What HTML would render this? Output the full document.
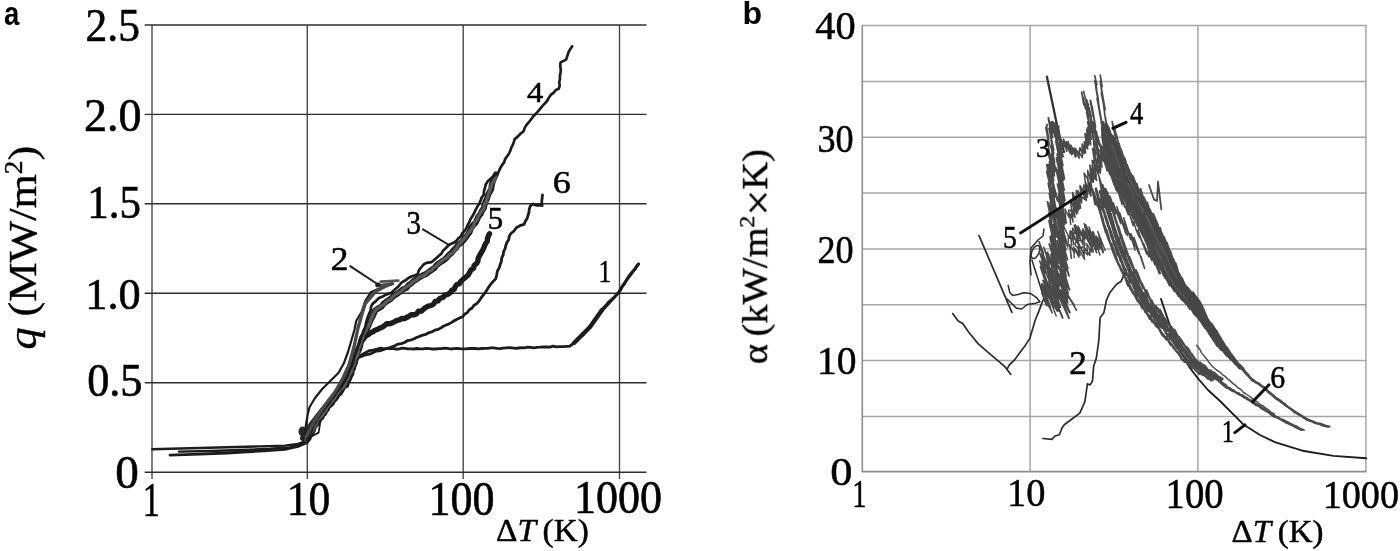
<!DOCTYPE html>
<html><head><meta charset="utf-8"><style>
html,body{margin:0;padding:0;background:#fff;width:1400px;height:551px;overflow:hidden}
svg{display:block}
</style></head><body>
<svg width="1400" height="551" viewBox="0 0 1400 551">
<rect width="1400" height="551" fill="#fff"/>
<line x1="152" y1="25" x2="152" y2="479" stroke="#4a4a4a" stroke-width="1.4"/>
<line x1="307.3" y1="25" x2="307.3" y2="479" stroke="#4a4a4a" stroke-width="1.4"/>
<line x1="463.2" y1="25" x2="463.2" y2="479" stroke="#4a4a4a" stroke-width="1.4"/>
<line x1="619.5" y1="25" x2="619.5" y2="479" stroke="#4a4a4a" stroke-width="1.4"/>
<line x1="144.7" y1="25" x2="646.5" y2="25" stroke="#2e2e2e" stroke-width="1.35"/>
<line x1="144.7" y1="114.3" x2="646.5" y2="114.3" stroke="#2e2e2e" stroke-width="1.35"/>
<line x1="144.7" y1="203.7" x2="646.5" y2="203.7" stroke="#2e2e2e" stroke-width="1.35"/>
<line x1="144.7" y1="293.2" x2="646.5" y2="293.2" stroke="#2e2e2e" stroke-width="1.35"/>
<line x1="144.7" y1="382.7" x2="646.5" y2="382.7" stroke="#2e2e2e" stroke-width="1.35"/>
<line x1="144.7" y1="472.2" x2="646.5" y2="472.2" stroke="#2e2e2e" stroke-width="1.35"/>
<line x1="862.3" y1="25.6" x2="1366.6" y2="25.6" stroke="#a6a6a6" stroke-width="1.5"/>
<line x1="862.3" y1="81.4" x2="1366.6" y2="81.4" stroke="#a6a6a6" stroke-width="1.5"/>
<line x1="862.3" y1="137.3" x2="1366.6" y2="137.3" stroke="#a6a6a6" stroke-width="1.5"/>
<line x1="862.3" y1="193.1" x2="1366.6" y2="193.1" stroke="#a6a6a6" stroke-width="1.5"/>
<line x1="862.3" y1="248.9" x2="1366.6" y2="248.9" stroke="#a6a6a6" stroke-width="1.5"/>
<line x1="862.3" y1="304.8" x2="1366.6" y2="304.8" stroke="#a6a6a6" stroke-width="1.5"/>
<line x1="862.3" y1="360.6" x2="1366.6" y2="360.6" stroke="#a6a6a6" stroke-width="1.5"/>
<line x1="862.3" y1="416.4" x2="1366.6" y2="416.4" stroke="#a6a6a6" stroke-width="1.5"/>
<line x1="1030.1" y1="25.6" x2="1030.1" y2="471.4" stroke="#a6a6a6" stroke-width="1.5"/>
<line x1="1197.9" y1="25.6" x2="1197.9" y2="471.4" stroke="#a6a6a6" stroke-width="1.5"/>
<line x1="1365.9" y1="25.6" x2="1365.9" y2="471.4" stroke="#a6a6a6" stroke-width="1.5"/>
<line x1="862.3" y1="25" x2="862.3" y2="472.2" stroke="#8c8c8c" stroke-width="1.6"/>
<line x1="862.3" y1="471.6" x2="1366.6" y2="471.6" stroke="#8c8c8c" stroke-width="1.6"/>
<path d="M152.3,449.3 L190.0,448.3 L227.0,447.2 L260.0,446.4 L285.0,445.6 L298.0,444.0 L305.0,441.5 L310.0,438.0" fill="none" stroke="#1c1c1c" stroke-width="2.4" stroke-linejoin="round" stroke-linecap="round"/>
<path d="M170.0,455.2 L200.0,454.2 L227.0,453.0 L260.0,451.0 L285.0,449.3 L298.0,446.5 L306.0,443.0 L310.0,439.0" fill="none" stroke="#1c1c1c" stroke-width="2.8" stroke-linejoin="round" stroke-linecap="round"/>
<path d="M179.0,451.6 L210.0,451.0 L240.0,450.0 L270.0,448.8 L290.0,447.5 L300.0,445.0 L307.0,441.0" fill="none" stroke="#1c1c1c" stroke-width="2.4" stroke-linejoin="round" stroke-linecap="round"/>
<ellipse cx="302.5" cy="431.5" rx="4" ry="5" fill="#2a2a2a"/>
<path d="M303.0,441.0 L318.6,432.6 L320.4,421.7 L322.0,416.0" fill="none" stroke="#1c1c1c" stroke-width="1.8" stroke-linejoin="round" stroke-linecap="round"/>
<path d="M303.0,438.0 L312.0,424.0 L322.0,411.0 L333.0,399.0 L343.0,386.0 L350.0,373.0 L355.0,360.0 L358.0,350.0" fill="none" stroke="#262626" stroke-width="6.0" stroke-linejoin="round" stroke-linecap="round"/>
<path d="M307.0,441.0 L308.3,437.9 L310.6,435.4 L312.1,432.5 L313.3,429.4 L315.1,426.6 L316.7,423.7 L318.5,420.9 L320.2,418.2 L321.6,415.3 L323.4,412.7 L325.9,410.7 L327.4,408.0 L329.6,405.7 L330.9,402.7 L333.1,400.5 L335.2,398.1 L336.8,395.2 L339.4,392.9 L341.3,390.2 L342.6,387.1 L344.6,384.4 L347.0,382.0 L348.9,378.9 L349.9,375.5 L351.2,372.1 L352.9,369.0 L354.1,365.3 L355.8,361.9 L357.4,359.2 L359.0,356.5 L362.3,354.4 L365.8,352.6 L369.3,350.7 L373.2,350.2 L377.0,349.2 L380.8,348.1 L383.8,348.9 L386.8,348.7 L389.8,348.7 L392.9,348.3 L395.9,349.1 L398.9,349.0 L401.9,348.2 L404.9,348.4 L407.9,348.8 L411.0,348.8 L414.0,349.0 L417.0,348.5 L420.0,348.9 L423.1,348.8 L426.1,348.4 L429.2,348.7 L432.3,349.0 L435.4,349.0 L438.4,348.6 L441.5,348.7 L444.6,348.2 L447.6,348.4 L450.7,349.0 L453.8,348.6 L456.9,348.4 L459.9,348.7 L463.0,348.9 L466.1,348.8 L469.2,348.5 L472.2,348.5 L475.3,348.5 L478.4,348.8 L481.5,348.5 L484.6,348.3 L487.7,348.4 L490.7,347.9 L493.8,347.8 L496.9,348.4 L500.0,348.7 L503.1,348.2 L506.2,347.9 L509.2,347.6 L512.3,347.9 L515.4,348.3 L518.5,348.0 L521.5,347.7 L524.6,347.9 L527.7,347.2 L530.8,347.4 L533.9,347.8 L536.9,347.4 L540.0,347.2 L543.3,346.8 L546.6,347.0 L549.9,347.2 L553.2,346.1 L556.5,346.8 L559.8,346.7 L563.1,346.6 L566.4,346.3 L569.9,346.2 L573.0,343.7 L576.2,341.4 L578.3,339.2 L580.2,336.7 L582.9,335.1 L584.9,332.7 L586.8,330.3 L588.8,328.0 L590.7,325.4 L592.4,322.8 L594.2,320.3 L596.2,317.9 L598.1,315.4 L600.2,312.8 L602.3,310.0 L604.1,307.1 L606.4,304.6 L608.6,302.0 L611.3,299.8 L614.0,297.6 L616.4,295.1 L618.9,292.6 L620.8,289.6 L622.2,286.3 L624.6,283.7 L626.3,280.6 L628.1,277.3 L630.2,274.4 L632.4,271.5 L634.9,269.4 L636.4,266.5 L638.5,264.0" fill="none" stroke="#1c1c1c" stroke-width="2.8" stroke-linejoin="round" stroke-linecap="round"/>
<path d="M574.0,343.0 L590.0,327.0 L602.0,310.0" fill="none" stroke="#1c1c1c" stroke-width="4.4" stroke-linejoin="round" stroke-linecap="round"/>
<path d="M600.0,313.0 L618.6,292.4 L626.2,280.5 L632.8,271.8 L638.5,264.0" fill="none" stroke="#1c1c1c" stroke-width="3.0" stroke-linejoin="round" stroke-linecap="round"/>
<path d="M308.0,440.0 L309.9,437.6 L311.4,435.0 L312.1,431.9 L313.6,429.3 L315.8,427.0 L317.2,424.4 L318.6,421.7 L319.8,418.9 L322.0,416.4 L323.8,413.8 L325.7,411.2 L327.2,408.3 L329.3,405.8 L331.2,403.2 L333.3,400.8 L335.4,398.3 L337.4,395.6 L339.0,392.7 L341.0,390.0 L342.8,387.2 L344.6,384.4 L346.6,381.8 L348.4,379.0 L349.6,375.9 L351.1,372.9 L353.0,370.2 L354.0,367.0 L355.4,364.0 L356.4,360.9 L357.8,357.6 L360.9,356.7 L363.8,355.5 L366.8,354.7 L369.9,354.1 L372.8,352.7 L375.9,351.2 L379.3,350.9 L382.6,349.8 L385.8,348.7 L389.1,347.9 L392.2,346.7 L395.2,345.6 L398.1,344.1 L401.4,343.6 L404.5,342.5 L407.3,340.7 L410.5,340.1 L413.6,339.0 L416.5,337.5 L419.6,336.4 L422.7,335.1 L425.9,334.3 L428.8,332.7 L432.0,331.8 L434.9,330.1 L438.2,329.3 L440.9,328.0 L443.4,326.2 L446.2,325.0 L449.1,323.9 L451.7,322.4 L454.3,320.8 L456.9,319.2 L459.7,317.9 L462.6,316.8 L464.6,314.2 L467.4,312.5 L469.3,309.8 L472.1,308.0 L474.0,305.3 L476.8,303.6 L479.0,301.1 L480.7,298.4 L482.6,295.8 L484.6,293.3 L486.5,290.7 L488.1,287.9 L490.4,284.7 L493.0,281.7 L495.8,278.6 L496.7,275.0 L497.3,271.3 L499.2,267.9 L500.2,264.4 L501.4,261.3 L501.7,257.9 L503.2,255.0 L503.6,251.6 L505.1,248.7 L505.8,245.4 L506.9,242.4 L508.7,239.7 L509.2,236.5 L510.7,233.7 L513.9,231.0 L516.5,227.6 L520.0,225.7 L524.0,224.4 L525.2,221.4 L527.0,218.8 L527.9,215.9 L528.9,212.5 L529.3,209.0 L530.4,205.8 L533.1,203.9 L535.9,205.3 L539.0,205.0 L542.2,205.5 L541.7,201.9 L542.1,198.4 L542.5,194.8" fill="none" stroke="#1c1c1c" stroke-width="2.8" stroke-linejoin="round" stroke-linecap="round"/>
<path d="M307.0,441.0 L307.8,438.6 L309.5,436.6 L310.5,434.2 L312.1,432.2 L313.3,430.0 L313.6,427.3 L314.8,425.0 L317.3,423.5 L317.7,420.7 L319.1,418.7 L321.7,417.5 L322.5,415.0 L324.5,413.4 L325.5,411.0 L327.2,409.2 L328.0,406.6 L330.2,405.1 L332.0,403.4 L333.0,401.0 L335.0,399.3 L336.5,397.2 L337.3,394.5 L339.9,393.3 L341.3,391.1 L342.5,388.8 L343.7,386.5 L346.6,385.3 L347.0,382.6 L348.4,380.5 L349.6,378.3 L350.4,375.8 L351.7,373.6 L351.8,371.0 L353.2,368.6 L353.2,366.0 L354.8,363.7 L355.3,361.2 L354.6,358.3 L355.4,355.8 L356.5,353.0 L358.8,350.7 L358.9,347.6 L360.2,344.9 L360.7,341.8 L362.7,340.0 L364.2,337.9 L365.8,335.8 L368.3,334.5 L370.5,332.8 L372.9,331.7 L375.0,330.2 L377.5,329.4 L379.7,328.2 L382.0,327.3 L384.4,325.7 L386.6,323.7 L389.6,323.8 L392.3,322.9 L394.7,321.7 L397.0,320.4 L399.4,319.9 L401.6,318.4 L404.3,318.7 L406.6,317.5 L408.8,316.4 L411.1,314.8 L414.2,314.8 L416.7,313.8 L418.4,311.2 L421.4,311.1 L423.5,309.3 L425.7,307.4 L428.2,306.2 L431.1,305.5 L433.5,304.2 L435.2,301.4 L438.1,300.9 L439.9,298.3 L442.9,297.5 L444.8,295.2 L447.8,294.3 L450.3,292.7 L451.7,290.3 L454.2,289.3 L455.3,286.6 L457.0,284.6 L459.6,283.6 L460.8,281.2 L463.2,279.2 L465.6,277.3 L468.0,275.3 L469.5,272.7 L470.8,270.1 L473.6,268.3 L474.2,265.3 L476.7,263.4 L477.9,260.8 L478.3,257.8 L479.7,255.4 L481.1,252.9 L482.6,250.4 L483.8,247.9 L484.7,245.5 L485.8,243.2 L487.3,241.1 L487.5,238.4 L488.4,236.0 L489.5,233.7" fill="none" stroke="#1c1c1c" stroke-width="5.4" stroke-linejoin="round" stroke-linecap="round"/>
<path d="M306.0,440.0 L307.4,437.0 L309.0,434.0 L311.0,431.4 L312.5,428.4 L314.1,425.4 L316.2,422.8 L318.4,420.3 L320.2,417.7 L322.0,415.2 L323.4,412.3 L325.5,410.0 L327.2,407.3 L328.9,404.8 L330.7,402.2 L332.7,399.8 L335.4,397.6 L337.3,394.9 L339.3,392.2 L341.3,389.5 L342.7,386.4 L344.8,383.9 L346.5,381.3 L348.0,378.5 L349.6,375.8 L351.0,373.0 L351.5,369.8 L353.1,367.0 L354.2,364.1 L355.0,361.0 L355.6,357.9 L357.0,355.0 L357.5,351.4 L359.5,348.1 L360.4,344.6 L361.1,341.0 L362.2,337.6 L364.3,334.5 L365.4,331.0 L367.1,328.3 L368.5,325.5 L369.6,322.4 L370.9,319.5 L372.5,316.8 L373.8,313.8 L375.1,310.7 L378.1,308.5 L381.4,306.7 L383.8,303.7 L386.7,301.4 L390.4,299.2 L393.3,296.1 L396.7,294.1 L399.8,291.8 L402.7,289.5 L406.2,288.0 L408.7,285.1 L411.3,283.4 L413.5,281.2 L416.3,279.6 L419.3,277.4 L422.5,275.6 L426.0,274.1 L428.9,271.7 L431.6,269.9 L434.3,268.2 L436.3,265.5 L438.8,263.4 L441.4,261.6 L444.4,259.8 L446.8,257.5 L449.0,254.9 L451.6,252.8 L453.7,250.1 L456.2,247.8 L458.1,244.9 L460.9,242.9 L463.2,240.5 L465.3,238.0 L467.2,235.3 L469.6,232.1 L470.8,228.3 L473.2,225.2 L475.6,222.7 L477.1,219.7 L478.4,216.5 L480.6,214.0 L481.9,210.9 L483.9,208.0 L484.5,204.7 L485.6,201.5 L487.1,198.4 L488.0,195.1 L489.5,192.1 L491.3,189.2 L491.6,186.0 L492.3,183.0 L493.3,180.1 L494.5,177.3 L495.9,174.5" fill="none" stroke="#1c1c1c" stroke-width="6.0" stroke-linejoin="round" stroke-linecap="round"/>
<path d="M306.0,440.0 L307.8,437.2 L309.7,434.4 L311.4,431.6 L313.3,428.8 L314.8,425.9 L316.7,423.1 L317.5,419.7 L319.8,417.5 L322.2,415.3 L323.8,412.6 L325.9,410.3 L327.0,407.2 L329.2,405.0 L330.9,402.3 L333.0,400.0 L335.1,397.4 L336.5,394.3 L338.7,391.8 L340.8,389.2 L343.4,387.0 L345.3,384.1 L346.0,381.0 L348.1,378.6 L348.8,375.4 L350.7,372.9 L351.6,369.9 L352.4,366.8 L354.4,364.1 L354.7,360.9 L355.7,357.9 L357.6,355.2 L358.4,351.6 L358.8,347.9 L360.5,344.7 L361.0,341.0 L362.6,337.8 L363.5,334.2 L365.8,331.2 L366.9,328.2 L368.7,325.5 L370.0,322.6 L370.8,319.5 L372.3,316.6 L373.5,313.7 L375.0,310.7 L377.9,308.3 L381.1,306.2 L384.2,304.2 L386.7,301.3 L390.4,299.2 L393.4,296.1 L396.5,293.9 L400.0,292.1 L402.8,289.6 L405.7,287.4 L408.9,285.4 L411.5,283.6 L413.4,281.1 L416.5,280.0 L419.1,277.1 L422.8,276.0 L426.0,274.2 L428.6,271.4 L431.7,270.1 L433.9,267.7 L436.6,265.9 L438.7,263.4 L441.2,261.4 L443.9,259.3 L447.1,257.8 L449.0,254.9 L452.0,253.1 L454.4,250.7 L456.6,248.1 L458.3,245.1 L460.6,242.6 L462.8,240.2 L465.2,237.8 L466.6,234.8 L469.4,232.0 L471.6,228.8 L473.8,225.5 L474.6,222.1 L477.2,219.8 L478.0,216.4 L480.0,213.6 L481.9,210.9 L484.0,208.1 L484.5,204.7 L486.4,201.8 L487.2,198.5 L488.2,195.2 L489.4,192.1 L490.4,188.9 L491.3,185.9 L492.4,183.1 L494.1,180.4 L495.4,177.6 L495.9,174.5" fill="none" stroke="#5a5a5a" stroke-width="3.4" stroke-linejoin="round" stroke-linecap="round"/>
<path d="M307.0,440.0 L308.7,437.1 L310.1,434.1 L311.3,431.0 L312.5,427.9 L313.7,424.8 L315.7,422.1 L317.0,419.0 L319.2,416.4 L320.9,413.5 L323.2,411.0 L324.8,408.0 L327.2,405.6 L329.2,402.9 L330.9,399.9 L333.0,397.4 L335.1,394.8 L336.8,391.8 L339.0,389.4 L341.2,386.8 L342.8,383.9 L344.7,381.3 L346.0,378.5 L347.5,375.8 L348.5,372.7 L349.6,369.9 L351.5,366.6 L352.8,363.1 L353.7,359.5 L354.6,355.9 L355.7,352.7 L357.1,349.5 L357.8,346.2 L359.4,343.2 L360.2,340.0 L361.0,336.9 L362.5,334.1 L363.4,331.0 L364.8,328.1 L365.7,325.1 L366.2,322.0 L367.2,319.0 L368.2,316.1 L369.4,313.1 L370.7,310.2 L371.0,306.8 L372.5,303.9 L375.9,301.1 L378.9,297.9 L382.6,296.6 L386.0,294.6 L391.2,292.8 L393.5,290.8 L395.7,288.7 L398.6,286.3 L400.9,283.2 L403.4,281.4 L406.1,280.0 L408.4,278.0 L411.4,276.5 L414.7,275.6 L417.7,273.9 L419.0,270.1 L421.5,267.0 L423.6,264.5 L426.4,262.8 L431.7,262.1 L434.1,260.0 L436.5,257.9 L439.0,255.7 L441.5,253.4 L443.2,250.4 L445.7,248.2 L449.1,244.8 L454.2,242.6 L456.6,240.6 L458.5,238.2 L461.1,236.3 L462.3,233.2 L464.6,230.9 L466.4,228.2 L467.7,225.1 L469.3,222.2 L470.5,219.0 L472.5,216.1 L474.2,212.9 L475.7,209.7 L477.4,206.6 L479.4,203.6 L480.6,200.6 L481.7,197.5 L483.7,194.8 L484.0,191.2 L485.0,187.6 L485.9,184.2 L487.8,181.2 L491.9,177.6 L494.9,175.2 L498.1,173.0 L499.3,170.2 L500.6,167.5 L502.2,164.9 L504.1,162.4 L505.1,159.2 L506.9,156.5 L508.9,153.8 L510.3,150.8 L511.2,147.9 L512.6,145.1 L513.8,142.2 L514.7,139.1 L517.7,136.6 L520.4,133.8 L523.6,131.3 L524.7,127.9 L526.6,124.8 L529.3,121.7 L531.7,118.5 L533.5,115.9 L535.9,113.9 L537.9,111.5 L540.1,108.8 L542.3,106.2 L544.7,103.6 L547.0,101.0 L548.7,97.9 L550.7,94.9 L553.5,92.8 L555.8,90.0 L558.7,88.8 L559.7,85.6 L559.2,82.3 L560.0,79.0 L559.9,75.7 L560.6,72.5 L560.8,69.2 L560.2,65.9 L560.6,62.4 L566.1,59.6 L567.5,55.3 L568.9,51.2 L572.2,46.3" fill="none" stroke="#1c1c1c" stroke-width="2.7" stroke-linejoin="round" stroke-linecap="round"/>
<path d="M305.0,437.0 L305.5,428.0 L307.7,414.4 L309.5,407.2 L315.0,398.0 L322.2,389.0 L331.3,380.0 L338.6,372.7 L344.0,363.0 L348.0,352.0 L351.5,340.0 L354.4,330.0 L356.3,320.8 L361.7,311.8 L365.3,300.9 L370.8,292.3 L378.0,289.0 L387.0,285.9 L393.0,284.0" fill="none" stroke="#1c1c1c" stroke-width="2.2" stroke-linejoin="round" stroke-linecap="round"/>
<path d="M306.0,437.0 L315.0,420.0 L325.0,405.0 L335.0,392.0 L343.0,378.0 L349.0,365.0 L354.0,347.0 L358.0,328.0 L362.6,312.0 L365.3,303.6 L370.8,297.2 L375.3,291.8 L381.7,288.2 L387.1,285.4 L392.0,283.5" fill="none" stroke="#4a4a4a" stroke-width="3.4" stroke-linejoin="round" stroke-linecap="round"/>
<path d="M376.8,285.9 L390.8,284.0" fill="none" stroke="#4a4a4a" stroke-width="3.2" stroke-linejoin="round" stroke-linecap="round"/>
<path d="M380.7,281.6 L398.4,280.6" fill="none" stroke="#555" stroke-width="2.6" stroke-linejoin="round" stroke-linecap="round"/>
<path d="M350.2,266.2 L378.8,285.0" fill="none" stroke="#1c1c1c" stroke-width="2.0" stroke-linejoin="round" stroke-linecap="round"/>
<ellipse cx="378" cy="284.5" rx="2.6" ry="2" fill="#1c1c1c"/>
<path d="M423.0,229.4 L449.0,245.0" fill="none" stroke="#1c1c1c" stroke-width="2.0" stroke-linejoin="round" stroke-linecap="round"/>
<path d="M952.7,313.6 L958.2,320.9 L962.7,323.6 L969.1,332.7 L978.1,343.6 L987.2,351.7 L998.1,360.8 L1005.4,367.2 L1010.8,374.4" fill="none" stroke="#2b2b2b" stroke-width="1.7" stroke-linejoin="round" stroke-linecap="round"/>
<path d="M1007.2,369.0 L1009.0,365.3 L1014.5,359.9 L1019.9,352.6 L1025.3,345.4 L1029.9,338.1 L1032.6,329.0 L1035.3,320.0 L1039.0,310.9 L1041.7,303.6 L1044.0,298.0" fill="none" stroke="#2b2b2b" stroke-width="1.7" stroke-linejoin="round" stroke-linecap="round"/>
<path d="M979.0,235.6 L1011.9,312.3" fill="none" stroke="#2b2b2b" stroke-width="1.7" stroke-linejoin="round" stroke-linecap="round"/>
<path d="M1008.1,285.4 L1009.9,292.7 L1012.6,295.4 L1018.1,294.5 L1023.5,292.7 L1030.8,293.6 L1036.2,297.3 L1039.9,301.8 L1034.4,303.6 L1027.2,304.5 L1021.7,309.0 L1016.3,308.1 L1009.9,301.8 L1007.2,299.1" fill="none" stroke="#2b2b2b" stroke-width="1.5" stroke-linejoin="round" stroke-linecap="round"/>
<ellipse cx="1035.5" cy="252" rx="3.5" ry="7" transform="rotate(25 1035.5 252)" fill="none" stroke="#333" stroke-width="1.6"/>
<path d="M1031.0,275.0 L1030.0,262.0 L1031.0,248.0 L1038.0,240.0 L1043.0,236.0 L1044.0,229.0" fill="none" stroke="#2b2b2b" stroke-width="1.5" stroke-linejoin="round" stroke-linecap="round"/>
<path d="M1031.9,260.0 L1045.9,303.9" fill="none" stroke="#2b2b2b" stroke-width="1.5" stroke-linejoin="round" stroke-linecap="round"/>
<path d="M1043.0,438.5 L1051.8,439.3 L1055.0,436.0 L1059.4,434.7 L1062.0,428.0 L1064.5,424.5 L1072.0,419.0 L1079.8,413.1 L1084.9,401.7 L1087.4,383.9 L1090.0,385.0 L1092.5,381.0 L1093.7,366.0 L1096.3,358.4 L1098.8,340.7 L1100.1,317.8 L1103.9,312.7 L1106.5,300.0 L1109.8,292.7 L1116.3,284.5 L1121.2,281.2 L1126.0,270.0" fill="none" stroke="#2b2b2b" stroke-width="1.7" stroke-linejoin="round" stroke-linecap="round"/>
<path d="M1046.9,76.7 L1059.2,135.5 L1064.0,152.0" fill="none" stroke="#333" stroke-width="2.3" stroke-linejoin="round" stroke-linecap="round"/>
<path d="M1161.0,299.0 L1168.0,320.0 L1176.0,343.0 L1183.0,356.0 L1190.0,368.0 L1198.0,378.5 L1208.0,390.0 L1220.0,401.0 L1243.8,424.8 L1260.0,435.0 L1274.8,442.1 L1302.4,450.7 L1333.4,455.9 L1366.2,458.3" fill="none" stroke="#1e1e1e" stroke-width="1.9" stroke-linejoin="round" stroke-linecap="round"/>
<path d="M1047.1,124.7 L1046.5,126.8 L1048.6,139.2 L1046.0,127.7 L1049.3,144.9 L1047.7,138.1 L1048.6,147.7 L1048.4,148.6 L1051.2,159.9 L1047.4,149.7 L1051.4,164.9 L1049.5,162.0 L1051.7,174.0 L1048.7,164.8 L1052.3,182.9 L1046.9,164.8 L1050.5,184.9 L1046.8,171.5 L1051.9,193.0 L1048.3,183.4 L1053.8,209.5 L1049.4,193.6 L1051.9,206.6 L1050.5,205.0 L1054.5,221.8 L1047.5,201.9 L1051.8,222.1 L1048.7,213.2 L1052.3,227.2 L1049.1,220.7 L1052.5,237.0 L1051.3,235.9 L1053.1,245.0 L1050.1,237.1 L1055.7,260.3 L1049.3,244.1 L1056.0,264.8 L1051.1,254.2 L1053.5,267.2 L1048.1,254.0 L1053.6,272.5 L1050.8,268.4 L1055.2,283.7 L1048.9,270.8 L1053.3,285.6 L1052.3,284.7 L1056.3,296.7 L1050.6,286.0 L1059.1,311.1 L1053.5,300.5 L1057.3,310.9 L1049.7,297.2" fill="none" stroke="#4a4a4a" stroke-width="1.94" stroke-linejoin="round" stroke-linecap="round"/>
<path d="M1050.6,125.1 L1050.7,127.2 L1052.5,137.4 L1049.1,128.5 L1053.6,149.9 L1051.2,140.1 L1053.6,154.0 L1050.9,145.9 L1054.5,162.3 L1051.9,153.6 L1055.9,171.3 L1051.0,155.3 L1054.3,173.1 L1052.2,166.0 L1054.2,175.8 L1050.8,165.6 L1053.5,180.7 L1051.2,175.9 L1057.6,200.8 L1051.8,181.6 L1054.5,197.3 L1051.9,188.0 L1056.1,210.2 L1051.9,193.5 L1057.8,218.1 L1049.9,195.8 L1055.9,218.8 L1050.2,202.5 L1058.9,233.7 L1052.2,214.9 L1059.1,240.6 L1053.5,224.6 L1055.8,237.2 L1051.0,222.8 L1056.5,245.6 L1052.4,233.7 L1059.1,257.2 L1052.0,238.9 L1058.3,262.9 L1052.9,249.5 L1058.8,268.5 L1053.3,258.4 L1059.3,277.7 L1052.7,263.0 L1060.0,285.5 L1054.3,271.4 L1058.8,288.1 L1051.2,270.8 L1059.5,293.2 L1052.4,279.0 L1059.2,298.6 L1053.8,288.3 L1060.4,307.2 L1052.6,293.1 L1062.6,317.8" fill="none" stroke="#4a4a4a" stroke-width="1.95" stroke-linejoin="round" stroke-linecap="round"/>
<path d="M1056.1,124.7 L1054.8,123.1 L1057.7,134.7 L1055.3,124.9 L1057.5,138.8 L1054.7,128.2 L1058.2,149.5 L1055.1,133.2 L1060.2,160.6 L1055.8,140.9 L1061.3,168.0 L1057.2,154.1 L1060.2,169.7 L1056.5,158.0 L1061.6,181.2 L1058.1,170.0 L1060.9,183.5 L1055.9,168.0 L1060.3,187.7 L1058.9,183.0 L1059.7,192.5 L1057.6,184.3 L1063.1,209.1 L1058.7,194.1 L1063.0,214.7 L1058.0,197.5 L1064.6,224.4 L1059.2,210.5 L1061.9,223.7 L1056.5,208.4 L1064.4,236.4 L1057.5,216.9 L1064.8,243.6 L1057.2,220.2 L1064.7,247.3 L1058.2,231.9 L1064.9,255.8 L1059.4,241.1 L1063.2,257.9 L1057.1,241.0 L1066.0,270.6 L1056.5,246.5 L1062.9,267.5 L1057.9,255.2 L1064.8,280.0 L1058.7,266.6 L1064.7,283.0 L1059.8,274.0 L1065.4,293.1 L1057.8,276.6 L1064.2,294.1 L1062.3,291.3 L1066.2,304.5 L1057.2,287.6 L1069.0,318.2 L1060.0,298.9" fill="none" stroke="#4a4a4a" stroke-width="1.95" stroke-linejoin="round" stroke-linecap="round"/>
<path d="M1058.9,126.6 L1058.1,126.2 L1059.6,134.8 L1058.7,130.2 L1061.0,144.0 L1059.2,140.9 L1063.1,156.7 L1058.6,143.4 L1061.6,157.4 L1059.6,149.9 L1062.9,165.6 L1059.0,151.6 L1064.4,178.8 L1060.9,165.9 L1063.5,180.0 L1060.1,170.5 L1064.2,190.2 L1060.5,179.3 L1064.9,200.5 L1059.6,183.1 L1064.2,204.3 L1060.2,191.1 L1063.0,207.2 L1058.7,194.9 L1066.3,222.9 L1061.7,210.3 L1064.7,223.0 L1061.3,217.9 L1063.6,226.5 L1061.6,224.9 L1067.8,246.8 L1059.9,225.1 L1065.9,250.0 L1059.4,231.5 L1067.5,259.9 L1058.7,237.7 L1067.9,268.5 L1061.0,249.9 L1069.0,275.8 L1059.6,251.5 L1066.2,276.2 L1063.3,269.7 L1069.5,289.9 L1062.2,274.0 L1068.2,293.5 L1060.4,276.6 L1064.9,291.3 L1062.4,286.2 L1067.3,301.7 L1061.2,290.7 L1069.8,312.7 L1063.1,301.3" fill="none" stroke="#4a4a4a" stroke-width="1.8" stroke-linejoin="round" stroke-linecap="round"/>
<path d="M1043.5,253.4 L1039.0,241.8 L1045.3,261.2 L1040.9,249.4 L1045.8,267.5 L1040.0,253.6 L1047.8,277.2 L1041.8,261.3 L1045.2,272.9 L1039.7,261.0 L1049.0,287.6 L1040.4,266.8 L1046.8,286.3 L1044.4,282.2 L1050.1,297.9 L1043.0,280.5 L1049.5,298.7 L1043.0,286.8 L1050.4,307.1 L1041.7,286.8 L1052.2,312.7 L1041.9,293.3 L1046.9,305.6" fill="none" stroke="#4a4a4a" stroke-width="1.64" stroke-linejoin="round" stroke-linecap="round"/>
<path d="M1047.9,251.9 L1047.4,252.5 L1050.2,263.4 L1043.8,247.2 L1049.2,264.7 L1046.5,257.2 L1050.9,272.1 L1043.9,256.7 L1053.3,283.5 L1045.4,264.1 L1051.2,283.7 L1048.0,277.2 L1050.6,286.1 L1048.6,281.8 L1054.7,298.9 L1045.3,279.7 L1054.8,305.0 L1049.9,295.1 L1054.1,307.9 L1049.5,298.4 L1056.2,316.0" fill="none" stroke="#4a4a4a" stroke-width="1.46" stroke-linejoin="round" stroke-linecap="round"/>
<path d="M1050.2,128.4 L1048.3,118.0 L1052.7,132.7 L1051.4,122.2 L1053.2,132.2 L1052.4,126.6 L1054.9,135.9 L1054.7,129.2 L1057.4,142.7 L1056.7,132.2 L1060.1,142.3 L1060.0,138.4 L1063.6,147.7 L1064.0,140.6 L1066.8,151.2 L1066.5,141.7 L1070.1,153.1 L1069.6,150.3 L1072.4,153.7 L1072.6,147.9 L1076.0,156.5 L1075.5,148.8 L1078.7,154.5 L1080.0,147.8 L1082.8,154.0 L1082.2,144.1 L1085.5,152.5 L1084.3,141.9 L1086.9,147.9 L1085.1,133.7 L1087.7,141.6 L1086.8,129.5 L1088.5,137.4 L1087.5,127.6 L1090.6,135.3 L1087.7,121.8 L1090.0,125.5 L1087.3,116.3 L1089.6,124.6 L1086.5,111.8 L1088.7,117.1 L1086.8,109.8 L1088.7,117.6 L1085.4,104.9 L1085.6,109.0 L1084.9,103.2 L1085.0,107.2 L1083.2,97.3 L1083.8,104.5 L1081.7,92.1" fill="none" stroke="#4a4a4a" stroke-width="1.79" stroke-linejoin="round" stroke-linecap="round"/>
<path d="M1052.7,128.0 L1052.1,121.5 L1053.6,128.0 L1052.8,121.5 L1056.9,136.4 L1055.4,129.0 L1058.3,138.1 L1056.8,132.4 L1059.6,138.7 L1058.8,133.3 L1063.4,146.1 L1063.5,139.0 L1065.1,144.7 L1066.5,142.1 L1069.2,150.6 L1068.1,141.5 L1071.7,154.8 L1070.8,145.0 L1075.4,156.9 L1074.8,148.1 L1079.1,158.2 L1078.8,151.9 L1082.3,157.5 L1082.6,150.3 L1084.8,153.5 L1085.0,142.8 L1087.7,148.9 L1086.1,137.2 L1088.7,145.3 L1088.5,138.7 L1090.8,144.8 L1089.0,129.5 L1091.2,139.3 L1089.5,126.7 L1092.6,134.3 L1090.4,121.9 L1092.8,131.2 L1091.6,121.3 L1091.2,121.3 L1090.6,115.1 L1091.2,119.4 L1089.3,110.2 L1090.6,115.8 L1088.1,105.5 L1089.6,111.4 L1086.1,99.3 L1087.7,110.6 L1086.2,99.2 L1086.1,101.7 L1083.6,91.2" fill="none" stroke="#4a4a4a" stroke-width="1.58" stroke-linejoin="round" stroke-linecap="round"/>
<path d="M1088.8,104.6 L1087.5,103.2 L1090.4,116.9 L1086.9,100.1 L1091.9,124.5 L1089.2,107.6 L1093.0,126.4 L1088.7,111.1 L1093.7,133.1 L1090.3,120.4 L1094.1,137.8 L1090.1,118.8 L1094.9,143.9 L1090.8,126.2 L1094.3,141.5 L1092.4,135.4 L1096.0,153.8 L1093.4,142.5 L1095.4,156.0 L1093.9,148.9 L1095.0,153.3 L1093.1,148.2 L1096.4,163.2 L1092.3,149.1" fill="none" stroke="#4a4a4a" stroke-width="1.44" stroke-linejoin="round" stroke-linecap="round"/>
<path d="M1092.8,111.8 L1090.7,100.6 L1093.1,116.4 L1090.2,100.3 L1094.3,120.7 L1092.0,106.2 L1095.5,126.9 L1094.5,120.7 L1095.4,127.9 L1093.7,122.4 L1095.9,135.2 L1095.3,131.7 L1098.0,144.8 L1095.5,134.2 L1096.3,141.1 L1094.7,132.4 L1098.5,151.3 L1095.5,140.8 L1099.5,157.6 L1095.3,143.3 L1100.0,164.1 L1097.1,152.4 L1100.7,170.0" fill="none" stroke="#4a4a4a" stroke-width="1.7" stroke-linejoin="round" stroke-linecap="round"/>
<path d="M1095.5,79.4 L1094.7,75.9 L1096.9,84.7 L1095.8,83.3 L1096.7,89.8 L1094.8,80.9 L1098.4,100.0 L1095.7,86.9 L1098.3,101.4 L1097.5,95.5 L1099.7,111.4 L1097.0,98.2 L1100.4,116.4 L1098.9,106.5 L1101.8,121.9 L1098.8,108.1 L1102.7,128.3 L1100.3,114.5 L1103.0,126.8 L1101.1,122.2 L1103.5,132.6 L1103.2,131.1 L1105.6,140.8" fill="none" stroke="#4a4a4a" stroke-width="1.68" stroke-linejoin="round" stroke-linecap="round"/>
<path d="M1100.8,77.6 L1100.2,75.0 L1102.2,86.6 L1100.4,82.4 L1102.4,95.8 L1100.4,80.9 L1102.1,95.2 L1100.9,85.2 L1105.2,109.8 L1101.2,93.0 L1104.0,105.8 L1102.6,98.1 L1105.4,118.8 L1104.4,112.1 L1105.8,121.5 L1105.5,117.6 L1106.8,125.8 L1106.2,123.6 L1110.4,138.9 L1107.9,128.9 L1111.0,145.6" fill="none" stroke="#4a4a4a" stroke-width="1.62" stroke-linejoin="round" stroke-linecap="round"/>
<path d="M1101.5,127.2 L1101.4,128.3 L1101.8,131.6 L1101.9,133.3 L1102.0,135.3 L1101.6,134.6 L1102.2,139.0 L1102.0,138.9 L1102.9,143.7 L1103.2,145.4 L1103.6,148.0 L1103.1,146.7 L1103.6,149.6 L1104.1,152.3 L1104.6,154.3 L1105.3,156.7 L1106.1,159.7 L1106.2,160.0 L1106.2,159.8 L1107.0,162.5 L1108.1,166.9 L1108.2,167.0 L1109.4,171.8 L1109.5,170.0 L1110.9,173.4 L1112.0,175.6 L1112.9,177.2 L1114.3,181.0 L1114.5,179.5 L1116.1,184.0 L1117.2,186.2 L1117.6,185.8 L1119.1,189.8 L1119.6,189.5 L1120.6,191.4 L1121.9,194.8 L1122.8,196.1 L1123.1,194.7 L1125.3,200.8 L1125.8,200.5 L1127.6,204.6 L1127.5,202.2 L1129.3,206.4 L1130.7,209.2 L1131.7,210.7 L1132.0,209.7 L1133.4,212.7 L1134.6,214.8 L1136.0,217.7 L1137.1,219.4 L1138.3,222.3 L1139.3,224.5 L1138.9,222.3 L1140.2,225.6 L1141.3,228.2 L1141.8,228.8 L1142.8,231.1 L1144.1,234.5 L1144.5,234.7 L1145.9,238.3 L1145.8,237.1 L1147.9,242.7 L1147.6,241.0 L1149.2,245.0 L1150.5,248.3 L1150.2,246.5 L1152.0,251.3 L1152.5,251.9 L1153.2,253.5 L1153.5,253.7 L1154.6,256.4 L1156.6,261.5 L1157.1,262.4 L1158.2,265.1 L1158.3,264.8 L1159.6,268.1 L1160.5,270.1 L1161.0,270.3 L1163.1,275.0 L1164.3,277.3 L1165.1,278.2 L1165.5,278.4 L1166.6,280.2 L1167.3,281.2 L1169.4,285.9 L1169.8,284.9 L1171.5,287.0 L1174.0,291.3 L1174.9,291.8 L1175.8,292.1 L1178.4,296.6 L1179.1,296.3 L1181.4,300.0 L1182.2,300.3 L1183.9,301.9 L1185.6,303.9 L1187.4,305.7 L1189.8,309.6 L1189.9,308.3 L1190.9,309.1 L1194.1,314.6 L1195.1,315.3 L1196.4,316.8 L1196.6,316.0 L1198.8,319.6 L1199.9,321.0 L1201.2,322.7 L1203.2,326.0 L1204.9,328.5 L1205.1,328.2 L1206.6,330.3 L1207.0,330.7 L1209.5,334.9 L1210.5,336.3 L1211.8,338.3 L1213.4,340.9 L1213.1,339.9 L1216.0,344.8 L1217.2,346.6 L1217.4,345.7 L1220.6,350.1 L1221.6,350.7 L1222.0,350.2 L1225.8,355.4 L1226.9,356.2 L1227.6,356.4 L1230.3,359.6 L1231.0,359.9 L1232.5,361.3 L1235.4,364.8 L1235.6,364.3 L1239.0,368.6 L1239.8,369.0 L1240.0,368.6 L1244.2,368.9 L1242.4,366.7 L1241.7,366.2 L1240.2,364.5 L1239.8,364.4 L1238.4,362.9 L1236.4,360.5 L1235.4,359.1 L1234.0,357.1 L1232.2,354.6 L1231.7,354.0 L1231.2,353.5 L1228.3,348.9 L1226.9,346.9 L1226.7,347.0 L1225.7,345.8 L1223.3,341.5 L1223.9,342.8 L1221.8,339.2 L1220.4,336.8 L1220.2,336.5 L1218.6,333.8 L1216.9,330.7 L1216.4,330.1 L1216.2,330.3 L1213.8,326.4 L1211.9,323.4 L1211.7,323.7 L1210.8,322.7 L1209.5,321.0 L1207.5,317.8 L1206.8,316.1 L1207.1,316.7 L1204.8,311.4 L1204.4,310.4 L1204.8,311.4 L1204.2,309.8 L1202.4,305.7 L1201.6,304.4 L1200.2,301.9 L1199.1,300.0 L1197.4,297.8 L1196.1,296.3 L1194.0,293.0 L1192.7,291.8 L1192.6,293.4 L1190.8,291.0 L1189.3,289.1 L1187.8,287.3 L1186.6,286.3 L1185.7,285.0 L1184.8,283.5 L1182.2,277.7 L1181.6,277.1 L1181.5,277.8 L1179.4,273.0 L1178.9,272.8 L1177.4,269.9 L1176.0,266.3 L1175.8,266.3 L1174.6,263.4 L1174.0,262.2 L1173.3,260.7 L1172.4,258.7 L1171.7,257.3 L1170.8,255.3 L1170.1,253.9 L1168.8,250.4 L1167.7,247.6 L1166.5,244.8 L1166.0,243.9 L1166.0,244.4 L1165.0,242.0 L1163.4,237.7 L1162.8,236.6 L1162.4,236.0 L1161.2,232.8 L1161.2,233.7 L1160.5,232.2 L1158.5,226.5 L1158.1,225.8 L1157.6,225.3 L1157.1,224.5 L1156.2,222.2 L1154.8,218.1 L1154.2,218.1 L1152.7,214.6 L1152.1,214.1 L1150.2,209.3 L1149.5,208.6 L1148.9,208.4 L1147.7,205.9 L1147.1,205.8 L1145.1,200.3 L1144.6,200.5 L1143.2,197.1 L1143.0,198.7 L1141.2,194.0 L1141.1,195.2 L1139.6,190.9 L1138.4,187.9 L1138.3,189.2 L1136.5,184.1 L1135.9,183.5 L1135.0,181.7 L1134.1,179.8 L1133.3,178.2 L1132.2,175.6 L1131.6,174.9 L1131.2,175.2 L1129.4,169.7 L1128.5,168.1 L1128.2,168.0 L1127.7,167.0 L1127.2,166.0 L1125.5,160.3 L1125.6,162.1 L1124.9,160.3 L1123.5,155.6 L1123.2,156.0 L1121.9,151.3 L1120.4,148.0 L1119.7,147.8 L1118.6,146.1 L1117.1,142.7 L1116.7,143.8 L1114.9,138.7 L1113.8,137.0 L1112.7,135.1 L1112.2,136.0 L1110.7,132.4 L1108.9,127.1 L1107.8,125.6 L1106.5,122.7Z" fill="#464646" stroke="#464646" stroke-width="1.2" stroke-linejoin="round"/>
<path d="M1127.5,182.5 L1128.4,184.3 L1129.4,186.1 L1130.3,187.9 L1131.2,189.6 L1132.1,191.4 L1133.0,193.2 L1134.0,195.0 L1135.0,196.8 L1136.1,198.7 L1137.2,200.5 L1138.2,202.4 L1139.3,204.2 L1140.4,206.1 L1141.5,207.9 L1142.5,209.8 L1143.6,211.6 L1144.7,213.5 L1145.7,215.3 L1146.8,217.2 L1147.9,219.0 L1148.7,220.8 L1149.5,222.7 L1150.3,224.5 L1151.2,226.3 L1152.0,228.2" fill="none" stroke="#6a6a6a" stroke-width="0.8" stroke-linejoin="round" stroke-linecap="round"/>
<path d="M1111.5,144.0 L1112.3,146.0 L1113.1,148.0 L1113.9,150.0 L1114.7,152.0 L1115.4,154.0 L1116.1,156.0 L1116.8,158.0 L1117.4,160.0 L1118.1,162.0 L1118.8,164.0 L1119.5,166.0 L1120.2,168.0" fill="none" stroke="#6a6a6a" stroke-width="0.8" stroke-linejoin="round" stroke-linecap="round"/>
<path d="M1137.4,200.5 L1138.5,202.4 L1139.5,204.2 L1140.6,206.1 L1141.7,207.9 L1142.7,209.8 L1143.8,211.6 L1144.9,213.5 L1145.9,215.3 L1147.0,217.2 L1148.1,219.0 L1148.9,220.8 L1149.7,222.7 L1150.5,224.5 L1151.4,226.3 L1152.2,228.2" fill="none" stroke="#6a6a6a" stroke-width="0.8" stroke-linejoin="round" stroke-linecap="round"/>
<path d="M1154.7,244.7 L1155.6,246.5 L1156.4,248.3 L1157.3,250.2 L1158.1,252.0 L1159.0,254.0 L1159.9,256.0 L1160.8,258.0 L1161.7,260.0 L1162.5,262.0 L1163.4,264.0 L1164.3,266.0 L1165.2,268.0 L1166.1,270.0 L1167.2,271.9 L1168.2,273.8" fill="none" stroke="#6a6a6a" stroke-width="0.8" stroke-linejoin="round" stroke-linecap="round"/>
<path d="M1125.7,171.8 L1126.6,173.6 L1127.5,175.4 L1128.4,177.1 L1129.3,178.9 L1130.2,180.7 L1131.1,182.5 L1132.0,184.3 L1133.0,186.1 L1133.9,187.9 L1134.8,189.6 L1135.7,191.4 L1136.6,193.2 L1137.5,195.0 L1138.5,196.8" fill="none" stroke="#6a6a6a" stroke-width="0.8" stroke-linejoin="round" stroke-linecap="round"/>
<path d="M1160.4,242.8 L1161.2,244.7 L1162.0,246.5 L1162.8,248.3 L1163.7,250.2 L1164.5,252.0 L1165.4,254.0 L1166.3,256.0 L1167.2,258.0 L1168.0,260.0 L1168.9,262.0 L1169.8,264.0 L1170.7,266.0 L1171.6,268.0 L1172.5,270.0 L1173.6,271.9 L1174.6,273.8 L1175.7,275.6 L1176.8,277.5" fill="none" stroke="#6a6a6a" stroke-width="0.8" stroke-linejoin="round" stroke-linecap="round"/>
<path d="M1156.7,250.2 L1157.5,252.0 L1158.4,254.0 L1159.3,256.0 L1160.2,258.0 L1161.1,260.0 L1162.0,262.0 L1162.9,264.0 L1163.8,266.0 L1164.7,268.0 L1165.5,270.0 L1166.6,271.9 L1167.7,273.8 L1168.8,275.6 L1169.8,277.5 L1170.9,279.4 L1172.0,281.2 L1173.1,283.1 L1174.1,285.0 L1175.6,286.7 L1177.0,288.3 L1178.5,290.0 L1179.9,291.7 L1181.4,293.3 L1182.8,295.0 L1184.3,296.7 L1185.7,298.3 L1187.1,300.0" fill="none" stroke="#6a6a6a" stroke-width="0.8" stroke-linejoin="round" stroke-linecap="round"/>
<path d="M1140.2,206.1 L1141.3,207.9 L1142.4,209.8 L1143.4,211.6 L1144.5,213.5 L1145.6,215.3 L1146.6,217.2 L1147.7,219.0 L1148.5,220.8 L1149.4,222.7 L1150.2,224.5 L1151.0,226.3 L1151.9,228.2 L1152.7,230.0 L1153.5,231.8 L1154.3,233.7 L1155.2,235.5 L1156.0,237.3 L1156.8,239.2 L1157.7,241.0 L1158.5,242.8 L1159.3,244.7 L1160.1,246.5 L1161.0,248.3 L1161.8,250.2 L1162.6,252.0 L1163.5,254.0" fill="none" stroke="#6a6a6a" stroke-width="0.8" stroke-linejoin="round" stroke-linecap="round"/>
<path d="M1094.8,132.5 L1093.1,122.3 L1098.1,140.5 L1096.1,131.3 L1098.7,143.9 L1097.5,136.7 L1101.5,150.3 L1098.6,140.5 L1103.5,155.5 L1101.5,146.5 L1106.1,164.4 L1104.7,158.3 L1107.0,167.2 L1105.3,159.7 L1109.6,172.5 L1107.8,163.9 L1114.1,184.1 L1113.0,176.2 L1115.1,183.4 L1115.1,182.6 L1119.6,193.6 L1118.2,187.8 L1122.1,198.7 L1121.5,193.0 L1124.4,199.6 L1123.6,194.0 L1129.1,213.1 L1128.2,204.3 L1133.5,218.8 L1130.1,205.0 L1135.5,220.2 L1134.3,212.3 L1139.3,229.7 L1136.1,218.2 L1141.2,231.5 L1138.4,223.8 L1143.3,236.7 L1141.9,230.9 L1147.2,244.3 L1145.2,238.5 L1150.7,255.0 L1147.1,243.3 L1153.9,260.3 L1151.2,252.0 L1154.9,261.0 L1152.6,255.6 L1159.3,273.2 L1155.9,261.0 L1160.0,273.5" fill="none" stroke="#4a4a4a" stroke-width="2.02" stroke-linejoin="round" stroke-linecap="round"/>
<path d="M1105.3,131.7 L1103.4,122.0 L1106.2,137.2 L1105.4,130.8 L1108.7,145.0 L1107.1,137.3 L1110.8,150.7 L1108.3,141.3 L1112.5,154.5 L1111.2,148.9 L1114.7,163.9 L1114.1,155.0 L1116.6,168.0 L1115.6,159.7 L1119.0,174.0 L1119.3,172.7 L1123.1,183.6 L1121.1,169.8 L1125.8,188.7 L1125.6,182.2 L1127.1,189.0 L1126.9,184.6 L1130.4,195.7 L1130.5,194.1 L1134.8,206.8 L1133.3,195.4 L1138.1,209.1 L1135.1,196.3 L1140.6,213.2 L1139.1,206.8 L1143.7,219.0 L1142.8,213.2 L1146.1,223.4 L1144.0,212.7 L1149.3,231.1 L1147.7,224.3 L1153.5,239.6 L1150.7,228.5 L1155.0,241.9 L1151.4,230.5 L1158.3,249.9 L1156.4,243.4 L1160.5,255.1 L1157.5,244.0 L1162.8,258.7 L1161.3,253.4 L1165.5,264.7 L1164.8,260.8 L1169.0,273.2 L1166.7,266.1" fill="none" stroke="#4a4a4a" stroke-width="2.05" stroke-linejoin="round" stroke-linecap="round"/>
<path d="M1114.9,133.9 L1112.2,121.7 L1115.7,138.2 L1114.9,129.6 L1118.0,144.0 L1116.4,134.7 L1120.3,151.2 L1119.0,143.5 L1121.2,151.3 L1121.7,151.4 L1123.6,158.7 L1123.5,156.9 L1127.8,172.3 L1124.8,158.4 L1130.5,178.8 L1127.0,164.4 L1131.3,178.1 L1130.8,173.3 L1136.8,192.1 L1133.1,176.2 L1137.7,189.1 L1136.8,183.7 L1142.8,204.4 L1140.7,188.9 L1146.5,208.5 L1143.9,197.1 L1148.1,207.2 L1147.3,202.5 L1152.0,217.3 L1153.1,214.9 L1156.4,223.6 L1153.1,213.3 L1158.2,225.4 L1157.7,225.2 L1162.2,236.5 L1160.2,227.9 L1165.4,246.4 L1161.9,233.1 L1168.4,250.7 L1164.2,237.0 L1169.8,252.2 L1166.9,242.6 L1173.4,261.6 L1170.4,251.1 L1175.8,267.7 L1173.3,258.7 L1177.8,270.1 L1175.9,263.5" fill="none" stroke="#4a4a4a" stroke-width="1.78" stroke-linejoin="round" stroke-linecap="round"/>
<path d="M1240.6,368.0 L1242.4,369.4 L1245.8,373.5 L1248.8,376.4 L1252.3,380.5 L1256.2,382.4 L1262.5,386.7 L1264.8,388.5 L1268.9,392.7 L1271.6,394.7 L1276.0,398.6 L1278.5,400.1 L1282.5,403.0 L1284.8,404.9 L1289.1,407.9 L1291.6,409.7 L1294.8,412.3 L1297.4,413.7 L1302.3,416.6 L1303.2,417.2 L1307.5,420.1 L1310.3,420.7 L1315.7,423.2 L1318.5,423.7 L1323.4,425.6 L1327.7,426.7" fill="none" stroke="#4a4a4a" stroke-width="2.26" stroke-linejoin="round" stroke-linecap="round"/>
<path d="M1240.4,367.4 L1242.9,369.0 L1245.8,372.3 L1248.0,374.5 L1250.4,377.8 L1253.2,379.8 L1256.1,382.5 L1258.3,383.1 L1262.1,386.2 L1265.0,388.0 L1268.5,391.5 L1269.9,392.6 L1274.0,396.1 L1275.8,397.5 L1280.4,400.6 L1281.5,401.7 L1284.9,404.0 L1285.8,405.2 L1290.2,408.5 L1292.0,409.5 L1296.2,412.3 L1298.4,413.6 L1302.3,416.2 L1304.8,417.7 L1308.6,420.0 L1311.7,420.9 L1316.8,423.2 L1319.9,423.5 L1325.8,425.8 L1329.4,426.6" fill="none" stroke="#4a4a4a" stroke-width="2.1" stroke-linejoin="round" stroke-linecap="round"/>
<path d="M1065.7,219.8 L1065.0,209.1 L1069.0,217.5 L1068.8,209.9 L1071.8,211.7 L1070.4,199.8 L1073.7,207.0 L1072.5,192.4 L1076.5,201.7 L1076.3,190.3 L1081.4,200.1 L1080.0,185.6 L1082.9,192.2 L1083.9,184.8 L1086.5,190.9 L1084.1,172.9 L1088.1,179.8 L1087.6,170.2 L1090.8,179.9 L1089.9,165.0 L1093.8,176.3 L1092.1,160.3 L1095.1,165.0 L1093.1,153.0 L1097.6,163.3 L1097.1,152.5 L1102.8,160.1 L1101.5,152.7 L1105.1,164.2 L1101.9,153.0 L1107.2,171.0 L1105.4,164.0 L1107.7,169.2 L1108.2,168.6 L1109.8,174.5 L1108.8,171.0 L1112.1,178.2 L1110.1,172.0 L1116.1,190.0 L1113.4,177.6 L1117.3,191.8 L1116.4,185.7 L1120.5,199.7 L1117.4,187.8 L1122.1,204.6 L1121.9,197.9 L1124.6,207.0 L1122.6,199.6 L1127.7,213.2 L1125.7,206.5 L1128.3,214.8 L1127.5,207.6 L1133.2,225.9 L1129.0,211.6 L1133.3,224.8 L1133.6,221.0 L1136.2,230.1 L1135.8,229.1 L1139.6,237.8 L1138.0,230.0 L1143.1,245.1 L1139.4,234.5 L1143.5,244.2 L1142.6,243.1 L1146.6,253.9 L1143.9,244.1 L1148.7,256.8 L1148.0,251.1 L1151.7,260.4 L1151.2,254.5 L1154.8,264.8 L1155.4,262.0" fill="none" stroke="#4a4a4a" stroke-width="1.49" stroke-linejoin="round" stroke-linecap="round"/>
<path d="M1070.7,224.5 L1069.7,213.6 L1072.6,219.2 L1071.3,209.4 L1073.8,214.1 L1073.0,204.5 L1076.6,214.1 L1073.6,197.8 L1078.3,210.3 L1075.5,196.2 L1080.6,208.2 L1077.8,190.7 L1080.7,196.7 L1080.6,186.5 L1086.4,200.6 L1085.1,188.0 L1087.9,194.8 L1085.4,182.0 L1089.1,190.2 L1087.8,180.2 L1090.6,186.3 L1090.5,178.1 L1092.3,182.0 L1090.9,169.2 L1094.2,179.2 L1092.1,165.5 L1096.1,175.7 L1093.5,160.3 L1098.1,172.7 L1096.9,164.1 L1100.5,170.9 L1098.1,158.3 L1102.0,167.2 L1099.7,150.1 L1102.3,157.8 L1101.0,145.0 L1106.0,154.4 L1103.9,145.9 L1107.3,157.4 L1106.8,154.3 L1108.3,162.7 L1107.2,155.3 L1110.5,167.9 L1109.3,161.2 L1112.3,174.2 L1110.5,163.5 L1114.5,179.2 L1111.9,167.4 L1116.4,182.1 L1114.1,172.1 L1118.2,187.7 L1116.6,180.1 L1118.6,183.8 L1116.5,177.5 L1120.8,192.9 L1118.4,181.1 L1121.7,191.6 L1122.4,191.4 L1125.5,202.8 L1123.8,193.7 L1124.9,199.1 L1124.7,197.0 L1129.4,210.1 L1126.3,196.9 L1129.5,208.8 L1128.7,202.2 L1132.4,216.0 L1129.7,204.6 L1134.8,219.6 L1131.8,209.2 L1135.8,223.0 L1134.5,214.6 L1137.1,225.8 L1134.6,215.4 L1138.4,225.1 L1136.4,219.4 L1141.2,232.7 L1140.4,228.4 L1142.7,234.7 L1141.0,228.7 L1144.5,238.1 L1143.9,237.0 L1145.0,240.5 L1145.9,240.7 L1146.7,243.8 L1146.5,240.2 L1149.5,248.7 L1148.2,242.8 L1153.2,257.2 L1150.6,247.9 L1153.4,256.8 L1151.6,250.7 L1156.4,263.2 L1153.3,252.6 L1158.1,264.3 L1155.0,253.5 L1160.2,267.1 L1159.9,263.4" fill="none" stroke="#4a4a4a" stroke-width="1.51" stroke-linejoin="round" stroke-linecap="round"/>
<path d="M1073.0,221.8 L1071.5,213.2 L1074.9,217.1 L1073.6,208.1 L1077.7,212.8 L1075.0,198.8 L1079.2,208.9 L1078.0,195.9 L1081.5,202.9 L1081.4,196.7 L1084.6,199.5 L1083.2,188.5 L1087.4,197.1 L1086.0,185.8 L1091.0,196.0 L1088.6,182.2 L1092.4,192.3 L1089.8,174.9 L1093.4,182.1 L1092.4,171.6 L1096.5,180.5 L1094.4,165.0 L1098.3,174.1 L1096.8,163.2 L1100.3,173.1 L1098.6,155.4 L1101.6,162.7 L1102.2,157.7 L1104.3,161.8 L1103.4,151.9 L1106.0,153.7 L1106.1,148.5 L1109.1,158.4 L1108.4,155.5 L1110.9,162.6 L1108.9,154.3 L1113.4,170.8 L1110.5,157.0 L1114.5,172.6 L1114.8,169.1 L1117.3,178.3 L1116.1,172.9 L1118.1,180.3 L1117.7,175.2 L1121.0,186.3 L1118.5,175.2 L1124.0,193.5 L1120.2,179.9 L1125.8,198.3 L1125.0,192.5 L1128.3,203.0 L1126.1,193.5 L1129.8,206.8 L1127.2,195.4 L1132.3,211.7 L1130.3,202.9 L1133.6,213.5 L1132.5,206.4 L1135.3,215.7 L1134.9,213.3 L1137.0,218.2 L1136.5,215.3 L1139.5,221.6 L1138.5,220.8 L1142.0,231.2 L1140.9,222.3 L1143.3,230.9 L1141.6,224.8 L1145.2,236.1 L1144.6,230.2 L1148.5,243.2 L1145.4,232.6 L1152.1,250.5 L1149.4,241.0 L1153.2,251.3 L1150.5,243.2 L1156.7,259.6 L1152.7,246.7 L1158.7,260.3 L1156.6,254.2 L1162.0,267.9 L1159.8,258.6 L1163.4,266.2" fill="none" stroke="#4a4a4a" stroke-width="1.65" stroke-linejoin="round" stroke-linecap="round"/>
<path d="M1095.2,204.4 L1092.5,189.6 L1095.0,200.9 L1092.5,191.3 L1097.6,205.9 L1093.6,192.2 L1099.6,210.4 L1097.7,203.8 L1102.2,219.6 L1097.6,201.4 L1104.0,224.5 L1098.9,207.0 L1103.8,225.6 L1102.3,217.2 L1105.8,232.5 L1100.8,214.5 L1107.6,236.4 L1104.1,225.6 L1108.5,239.2 L1104.8,226.0 L1111.1,245.5 L1106.5,230.2 L1111.4,246.3 L1107.2,232.7 L1111.3,246.1 L1108.8,239.7 L1113.7,252.8 L1112.3,249.8 L1115.9,258.8 L1111.5,243.9 L1118.6,264.8 L1115.3,254.9 L1117.0,261.6 L1115.8,257.5 L1118.7,264.6 L1115.4,256.6 L1121.6,271.0 L1119.0,264.3 L1124.2,276.5 L1121.2,268.8 L1126.1,279.8 L1125.1,277.3 L1128.1,285.8 L1125.9,278.1 L1130.8,289.6 L1127.4,280.6 L1132.8,291.7 L1130.6,287.9 L1132.9,293.2 L1132.8,291.5 L1137.9,301.4 L1135.8,296.8 L1138.5,301.5 L1135.0,293.4 L1139.5,303.1 L1139.0,300.6 L1142.3,308.3 L1141.4,303.0 L1145.6,312.5 L1145.5,310.7 L1149.7,318.8 L1147.3,313.4 L1152.6,322.2 L1149.9,315.9 L1152.9,321.0 L1153.1,321.1 L1156.5,326.6 L1155.2,322.6 L1158.7,328.5 L1156.2,323.2 L1162.5,335.6 L1157.9,326.2 L1164.2,337.0 L1163.3,334.3 L1166.1,339.5 L1166.2,336.9 L1170.7,344.9 L1166.7,337.5 L1173.5,348.0 L1170.5,343.0 L1174.7,348.7 L1173.4,347.5 L1177.4,352.5 L1176.8,351.3 L1181.3,357.6 L1178.6,353.0 L1181.8,359.4 L1182.5,359.8 L1184.6,361.9 L1184.4,359.9 L1188.8,365.2 L1188.8,364.3 L1191.9,368.2 L1191.3,364.9 L1195.8,370.7 L1196.1,370.5 L1199.3,373.9 L1199.6,372.7 L1202.8,375.2 L1202.6,373.5 L1208.1,378.9 L1208.2,377.4 L1211.4,380.7" fill="none" stroke="#4a4a4a" stroke-width="2.18" stroke-linejoin="round" stroke-linecap="round"/>
<path d="M1099.6,204.8 L1095.9,188.6 L1101.1,207.0 L1099.1,200.0 L1102.0,209.1 L1099.6,199.1 L1103.6,212.0 L1101.9,206.1 L1107.2,222.7 L1101.3,202.6 L1108.3,226.5 L1103.3,210.5 L1107.6,222.8 L1104.1,211.7 L1111.0,233.6 L1108.0,224.8 L1112.6,239.3 L1110.0,229.6 L1111.6,236.9 L1107.7,223.0 L1114.2,244.1 L1109.4,227.7 L1114.4,244.7 L1110.9,231.9 L1117.8,254.9 L1114.2,241.0 L1120.2,259.0 L1116.0,245.2 L1120.8,261.2 L1117.6,250.4 L1123.5,267.3 L1119.3,254.5 L1122.2,263.1 L1120.4,257.1 L1126.0,274.8 L1121.7,261.3 L1126.4,273.3 L1124.7,268.7 L1130.6,282.2 L1127.7,274.5 L1129.7,278.8 L1128.5,275.7 L1131.9,282.6 L1129.1,275.0 L1136.3,293.4 L1131.5,280.3 L1137.8,295.4 L1134.3,283.8 L1139.5,295.7 L1136.0,289.2 L1142.8,304.1 L1139.4,295.2 L1143.7,303.3 L1141.4,297.1 L1147.3,310.9 L1144.2,300.9 L1149.2,311.4 L1147.4,305.5 L1152.1,315.8 L1150.0,309.1 L1155.3,320.4 L1153.1,313.1 L1158.4,323.7 L1156.5,319.3 L1160.2,326.4 L1157.7,320.8 L1161.9,327.6 L1160.7,323.2 L1165.7,332.1 L1162.6,326.5 L1167.9,336.1 L1168.0,334.3 L1170.4,339.3 L1168.9,334.6 L1173.5,342.3 L1171.2,338.0 L1177.1,348.2 L1174.4,341.9 L1180.0,351.6 L1178.4,347.6 L1182.5,355.0 L1179.7,349.6 L1185.3,357.9 L1182.4,353.4 L1188.4,362.1 L1185.4,357.7 L1190.8,363.4 L1189.6,361.3 L1193.0,365.1 L1194.1,365.6 L1197.7,369.2 L1198.0,368.5 L1202.7,373.6 L1200.4,369.3 L1204.6,373.9 L1205.7,373.6 L1208.5,375.7 L1208.4,374.6 L1213.2,379.7 L1213.3,377.5" fill="none" stroke="#4a4a4a" stroke-width="2.51" stroke-linejoin="round" stroke-linecap="round"/>
<path d="M1102.5,202.1 L1099.8,191.0 L1104.2,206.9 L1103.0,200.6 L1104.7,206.3 L1102.6,197.0 L1108.8,216.8 L1106.7,208.6 L1109.7,219.6 L1106.1,206.5 L1113.3,229.1 L1109.2,217.9 L1113.1,229.0 L1109.1,216.4 L1115.5,237.7 L1109.9,219.3 L1115.8,237.8 L1112.9,228.9 L1117.8,244.1 L1116.6,238.7 L1118.9,246.2 L1116.7,240.0 L1121.0,252.7 L1118.3,242.2 L1123.5,258.5 L1120.7,249.3 L1122.5,256.5 L1123.0,256.9 L1128.1,269.1 L1123.1,256.9 L1128.7,270.9 L1124.7,258.6 L1130.1,274.8 L1127.5,265.7 L1134.9,283.2 L1129.6,268.2 L1133.9,279.8 L1133.8,279.4 L1139.2,290.8 L1134.8,278.4 L1140.8,293.5 L1135.4,280.7 L1142.8,297.6 L1140.5,291.1 L1145.1,301.0 L1141.0,290.9 L1145.4,301.5 L1143.1,295.8 L1149.5,309.4 L1148.4,303.7 L1151.6,311.0 L1150.5,305.0 L1153.8,312.3 L1152.4,307.3 L1157.5,318.7 L1156.7,315.6 L1161.2,322.6 L1159.2,317.3 L1163.6,327.2 L1162.7,324.2 L1166.8,331.1 L1163.1,322.3 L1167.8,330.4 L1166.9,327.5 L1172.5,338.1 L1169.7,332.1 L1176.5,342.5 L1173.7,336.3 L1176.7,341.8 L1176.1,340.2 L1180.1,346.6 L1178.8,343.2 L1182.7,350.8 L1181.1,347.1 L1187.5,356.8 L1183.7,351.0 L1188.7,357.4 L1188.8,357.6 L1193.3,363.4 L1190.2,358.3 L1196.3,366.1 L1194.7,362.2 L1199.0,367.7 L1197.9,364.3 L1202.9,370.7 L1202.4,369.1 L1205.8,372.4 L1206.9,371.1 L1211.9,377.1 L1211.9,375.0 L1216.3,379.6 L1215.5,376.7" fill="none" stroke="#4a4a4a" stroke-width="2.14" stroke-linejoin="round" stroke-linecap="round"/>
<path d="M1104.5,200.6 L1102.4,190.9 L1106.4,206.5 L1104.4,197.8 L1107.4,210.0 L1104.3,196.9 L1111.8,219.8 L1108.6,207.1 L1111.2,216.3 L1109.0,210.2 L1111.1,216.4 L1110.9,213.9 L1115.5,230.9 L1109.3,210.5 L1114.5,228.8 L1112.0,220.2 L1117.2,235.4 L1114.3,226.7 L1116.8,235.1 L1112.9,222.3 L1119.2,242.2 L1115.0,229.4 L1120.1,245.7 L1117.3,237.5 L1121.6,250.0 L1118.2,237.8 L1121.9,249.8 L1118.5,237.4 L1123.9,255.9 L1119.4,240.8 L1126.1,258.3 L1123.4,253.2 L1127.5,261.9 L1123.5,250.2 L1130.1,269.1 L1127.1,260.6 L1131.0,271.2 L1128.4,264.6 L1129.8,268.9 L1128.8,264.0 L1132.2,274.3 L1131.3,271.0 L1135.7,280.8 L1133.0,272.3 L1136.0,280.2 L1135.1,278.5 L1138.8,287.6 L1135.1,275.7 L1142.2,293.4 L1137.5,280.6 L1141.2,290.4 L1140.2,287.2 L1144.8,298.0 L1143.9,293.0 L1148.3,303.3 L1143.7,293.4 L1147.9,302.8 L1144.8,293.7 L1150.8,307.8 L1150.1,304.2 L1154.1,311.1 L1150.6,304.4 L1154.5,310.0 L1154.2,309.0 L1157.5,316.0 L1154.8,309.1 L1160.7,320.3 L1159.2,315.7 L1163.1,322.5 L1161.9,320.0 L1166.9,328.2 L1162.7,319.9 L1166.9,326.6 L1164.5,321.0 L1168.6,329.7 L1168.9,328.5 L1171.7,332.4 L1170.8,329.6 L1174.2,337.2 L1172.6,332.8 L1177.0,341.0 L1174.6,335.1 L1181.2,345.6 L1177.4,339.0 L1182.9,347.9 L1180.9,344.4 L1185.4,350.6 L1183.7,348.0 L1185.8,352.1 L1184.4,348.6 L1189.2,356.3 L1187.6,352.6 L1193.0,360.3 L1189.9,356.4 L1194.1,361.4 L1193.5,359.5 L1198.1,365.8 L1195.8,360.6 L1199.7,365.8 L1199.2,364.0 L1202.8,368.2 L1202.4,366.3 L1207.4,373.2 L1206.2,370.6 L1211.3,375.7 L1209.9,371.8 L1214.0,377.1 L1213.3,374.2 L1216.5,377.7 L1216.1,375.9 L1221.0,380.3" fill="none" stroke="#4a4a4a" stroke-width="2.1" stroke-linejoin="round" stroke-linecap="round"/>
<path d="M1109.1,206.9 L1104.2,188.8 L1109.6,207.5 L1105.6,189.0 L1111.6,209.7 L1107.3,192.4 L1111.1,207.7 L1108.8,196.8 L1115.4,220.0 L1109.6,200.4 L1116.9,224.3 L1112.1,208.3 L1117.9,226.7 L1111.8,205.9 L1116.7,223.4 L1115.6,221.2 L1117.2,224.0 L1115.9,221.2 L1121.1,238.7 L1115.2,218.3 L1121.1,235.8 L1118.2,225.7 L1123.4,244.7 L1118.3,226.8 L1123.0,243.8 L1120.3,235.4 L1124.5,248.2 L1121.3,235.0 L1126.6,254.1 L1122.2,239.5 L1127.7,254.1 L1123.3,241.4 L1129.8,261.6 L1125.0,246.3 L1131.2,264.0 L1129.4,257.0 L1132.2,266.5 L1126.9,252.3 L1133.0,268.1 L1130.3,259.0 L1135.3,273.1 L1131.4,264.9 L1135.2,273.3 L1134.0,269.9 L1136.9,275.2 L1135.3,271.2 L1140.3,282.3 L1135.9,270.0 L1143.2,288.3 L1137.2,272.7 L1143.0,288.0 L1141.6,283.1 L1144.8,289.9 L1142.1,283.8 L1147.8,296.7 L1144.6,289.6 L1146.4,293.6 L1146.1,291.2 L1149.1,297.4 L1146.4,290.2 L1152.2,304.7 L1147.5,293.9 L1155.3,308.5 L1151.5,300.2 L1155.1,307.7 L1155.8,306.0 L1157.9,310.9 L1156.3,306.9 L1162.0,318.4 L1158.1,308.4 L1164.1,320.1 L1160.2,310.1 L1167.3,324.1 L1164.9,318.3 L1166.4,322.0 L1165.6,319.8 L1171.4,329.0 L1169.2,324.3 L1172.8,330.7 L1171.6,327.3 L1175.7,335.4 L1171.2,326.6 L1176.8,336.5 L1174.4,329.6 L1178.5,337.4 L1175.8,332.8 L1181.8,342.7 L1179.1,336.9 L1183.4,344.5 L1180.7,339.4 L1186.4,348.1 L1185.6,346.5 L1189.0,352.1 L1187.3,347.4 L1190.2,352.9 L1188.6,349.3 L1192.5,356.4 L1191.7,353.7 L1195.5,360.4 L1192.4,355.1 L1198.5,363.6 L1196.8,360.6 L1199.2,363.3 L1200.2,362.4 L1202.5,366.2 L1202.7,364.2 L1206.4,370.0 L1204.6,365.4 L1208.1,370.0 L1209.0,370.4 L1212.2,373.9 L1210.4,370.2 L1215.7,375.6 L1213.8,372.3 L1219.4,377.4 L1219.8,377.0 L1222.5,379.6 L1222.4,378.4" fill="none" stroke="#4a4a4a" stroke-width="2.07" stroke-linejoin="round" stroke-linecap="round"/>
<path d="M1214.1,377.0 L1216.0,378.5 L1220.8,382.9 L1221.5,383.6 L1226.3,387.6 L1228.0,388.0 L1232.7,391.2 L1234.3,391.4 L1238.6,394.3 L1240.3,394.9 L1244.0,397.4 L1246.7,398.8 L1250.5,401.1 L1252.1,402.1 L1256.0,405.1 L1258.4,405.7 L1261.9,408.8 L1264.5,410.0 L1268.9,412.7 L1270.6,414.2 L1273.9,416.6 L1276.5,417.3 L1281.0,419.5 L1282.5,420.5 L1286.5,422.8 L1288.2,423.5 L1292.6,425.5 L1294.6,426.7 L1298.7,428.7 L1301.5,429.9" fill="none" stroke="#4a4a4a" stroke-width="2.13" stroke-linejoin="round" stroke-linecap="round"/>
<path d="M1216.4,377.4 L1216.9,377.8 L1219.9,381.1 L1220.7,381.4 L1224.1,383.8 L1225.7,384.8 L1228.2,387.8 L1229.1,387.6 L1232.0,389.6 L1233.3,389.9 L1236.5,392.7 L1238.9,393.0 L1240.5,394.7 L1242.4,394.9 L1246.3,397.7 L1247.2,398.0 L1249.8,400.0 L1250.9,400.1 L1254.1,402.4 L1255.1,403.0 L1258.7,405.6 L1259.9,406.0 L1263.7,408.2 L1264.0,408.4 L1266.6,410.7 L1267.8,411.3 L1271.7,413.6 L1273.7,414.8 L1276.8,416.9 L1277.6,416.8 L1280.4,419.0 L1282.9,419.6 L1286.1,421.4 L1286.2,421.4 L1289.6,423.1 L1292.0,424.2 L1294.8,425.7 L1296.2,426.0 L1299.3,428.1 L1300.5,428.7 L1304.0,430.1" fill="none" stroke="#4a4a4a" stroke-width="1.79" stroke-linejoin="round" stroke-linecap="round"/>
<path d="M1196.7,345.3 L1198.6,347.7 L1200.7,350.9 L1201.3,352.6 L1204.5,356.4 L1206.3,358.4 L1208.5,361.6 L1210.2,363.9 L1212.1,366.2 L1214.5,368.2 L1217.7,370.9 L1220.5,372.4 L1223.1,375.2 L1225.6,376.7 L1228.1,379.4 L1230.2,380.9 L1233.0,383.6 L1235.7,385.4 L1237.9,387.7 L1240.9,389.5 L1243.3,392.4 L1245.3,393.5 L1249.8,396.5 L1251.6,397.8 L1254.4,400.4 L1256.8,401.5 L1260.1,404.5 L1263.1,405.8 L1265.7,408.2 L1268.6,409.8 L1271.0,412.2 L1274.4,413.9" fill="none" stroke="#4a4a4a" stroke-width="1.47" stroke-linejoin="round" stroke-linecap="round"/>
<path d="M1063.8,238.3 L1063.2,225.4 L1069.5,238.3 L1070.4,230.8 L1074.6,233.6 L1075.9,228.4 L1083.1,245.0 L1082.1,233.0 L1085.8,238.4 L1086.1,235.9 L1093.3,252.1 L1088.8,230.5 L1096.7,252.9" fill="none" stroke="#4a4a4a" stroke-width="1.43" stroke-linejoin="round" stroke-linecap="round"/>
<path d="M1068.1,245.3 L1068.4,235.5 L1072.7,239.9 L1072.6,227.9 L1078.9,239.2 L1078.1,226.1 L1084.0,239.7 L1084.2,231.2 L1090.7,245.6 L1088.4,234.2 L1095.9,250.7 L1092.4,233.9 L1100.0,254.9" fill="none" stroke="#4a4a4a" stroke-width="1.45" stroke-linejoin="round" stroke-linecap="round"/>
<path d="M1071.7,245.2 L1070.3,231.2 L1078.8,245.2 L1075.2,224.9 L1081.3,235.4 L1082.5,230.4 L1087.8,239.5 L1085.8,224.9 L1093.8,245.1 L1092.1,232.2 L1098.8,247.8 L1096.3,236.4 L1103.2,252.7" fill="none" stroke="#4a4a4a" stroke-width="1.68" stroke-linejoin="round" stroke-linecap="round"/>
<path d="M1073.5,244.2 L1072.6,232.7 L1078.7,244.8 L1074.2,225.3 L1080.1,238.5 L1078.3,227.4 L1084.6,240.2 L1082.9,228.5 L1088.2,241.5 L1084.2,223.7 L1091.2,239.7 L1089.0,227.0 L1097.0,249.4 L1093.2,231.7 L1099.6,249.2 L1097.8,237.7 L1103.3,251.9 L1097.8,231.4 L1105.2,250.5" fill="none" stroke="#4a4a4a" stroke-width="1.42" stroke-linejoin="round" stroke-linecap="round"/>
<path d="M1071.4,258.2 L1069.7,244.9 L1074.3,252.3 L1074.9,248.9 L1080.0,255.4 L1078.5,243.5 L1084.0,254.6 L1084.4,247.7 L1089.8,255.3 L1089.7,248.5" fill="none" stroke="#4a4a4a" stroke-width="1.67" stroke-linejoin="round" stroke-linecap="round"/>
<path d="M1074.3,257.6 L1073.4,246.5 L1078.9,257.3 L1078.1,247.5 L1084.6,259.4 L1083.3,250.4 L1087.6,255.0 L1086.9,243.8 L1091.9,252.2 L1092.0,244.5" fill="none" stroke="#4a4a4a" stroke-width="1.39" stroke-linejoin="round" stroke-linecap="round"/>
<ellipse cx="1080" cy="244" rx="5" ry="3.5" fill="none" stroke="#444" stroke-width="1.6"/>
<path d="M1149.0,185.0 L1154.0,199.6 L1157.0,201.0 L1158.0,181.6 L1161.3,209.4" fill="none" stroke="#4a4a4a" stroke-width="1.8" stroke-linejoin="round" stroke-linecap="round"/>
<path d="M1041.2,286.9 L1041.8,283.8 L1050.1,297.6 L1046.3,283.0 L1055.1,298.8 L1054.1,289.6 L1061.5,301.4 L1058.8,289.3 L1067.8,303.0 L1065.3,290.5 L1076.6,310.4" fill="none" stroke="#4a4a4a" stroke-width="1.57" stroke-linejoin="round" stroke-linecap="round"/>
<path d="M1044.0,295.7 L1041.8,284.1 L1047.3,290.9 L1045.4,282.1 L1056.2,302.6 L1053.8,288.4 L1059.3,296.6 L1059.9,289.5 L1067.1,300.9 L1067.1,295.4 L1074.3,304.9" fill="none" stroke="#4a4a4a" stroke-width="1.64" stroke-linejoin="round" stroke-linecap="round"/>
<path d="M1102.2,194.7 L1098.7,175.2 L1106.7,202.5 L1102.6,184.5 L1111.3,210.9 L1106.5,190.7 L1111.8,205.4 L1109.9,196.1 L1115.7,213.6 L1113.2,202.8 L1120.8,223.8 L1116.9,206.8 L1125.9,233.7 L1119.7,212.9 L1127.4,235.6 L1123.7,217.7 L1130.6,239.5 L1130.0,233.6 L1135.1,250.1 L1131.0,234.0 L1138.9,253.7 L1134.0,237.4 L1144.6,268.5 L1141.0,256.5" fill="none" stroke="#4a4a4a" stroke-width="1.55" stroke-linejoin="round" stroke-linecap="round"/>
<path d="M1113.0,128.3 L1126.0,122.4" fill="none" stroke="#111" stroke-width="3.2" stroke-linejoin="round" stroke-linecap="round"/>
<path d="M1020.5,233.0 L1085.3,191.6" fill="none" stroke="#111" stroke-width="2.8" stroke-linejoin="round" stroke-linecap="round"/>
<path d="M1252.6,401.8 L1269.0,384.8" fill="none" stroke="#111" stroke-width="3.0" stroke-linejoin="round" stroke-linecap="round"/>
<path d="M1234.8,432.6 L1245.0,424.9" fill="none" stroke="#111" stroke-width="3.0" stroke-linejoin="round" stroke-linecap="round"/>
<g opacity="0.999">
<text transform="translate(3.95,24.77) scale(0.9175,1.0907)" font-family="'Liberation Sans',sans-serif" font-weight="bold" font-size="30" text-anchor="start" fill="#000" >a</text>
<text transform="translate(742.60,24.20) scale(1.0698,1.0258)" font-family="'Liberation Sans',sans-serif" font-weight="bold" font-size="30" text-anchor="start" fill="#000" >b</text>
<text transform="translate(85.59,41.03) scale(0.9877,1.0428)" font-family="'Liberation Serif',serif" font-weight="normal" font-size="44" text-anchor="start" fill="#000" stroke="#000" stroke-width="0.6" stroke-linejoin="round">2.5</text>
<text transform="translate(84.08,130.78) scale(1.0459,1.0366)" font-family="'Liberation Serif',serif" font-weight="normal" font-size="44" text-anchor="start" fill="#000" stroke="#000" stroke-width="0.6" stroke-linejoin="round">2.0</text>
<text transform="translate(87.26,217.52) scale(0.9750,1.0455)" font-family="'Liberation Serif',serif" font-weight="normal" font-size="44" text-anchor="start" fill="#000" stroke="#000" stroke-width="0.6" stroke-linejoin="round">1.5</text>
<text transform="translate(85.37,308.51) scale(1.0070,1.0250)" font-family="'Liberation Serif',serif" font-weight="normal" font-size="44" text-anchor="start" fill="#000" stroke="#000" stroke-width="0.6" stroke-linejoin="round">1.0</text>
<text transform="translate(87.19,395.66) scale(1.0044,1.0749)" font-family="'Liberation Serif',serif" font-weight="normal" font-size="44" text-anchor="start" fill="#000" stroke="#000" stroke-width="0.6" stroke-linejoin="round">0.5</text>
<text transform="translate(115.26,488.40) scale(1.0726,1.0538)" font-family="'Liberation Serif',serif" font-weight="normal" font-size="44" text-anchor="start" fill="#000" stroke="#000" stroke-width="0.6" stroke-linejoin="round">0</text>
<text transform="translate(142.64,516.46) scale(0.7746,1.0947)" font-family="'Liberation Serif',serif" font-weight="normal" font-size="44" text-anchor="start" fill="#000" stroke="#000" stroke-width="0.6" stroke-linejoin="round">1</text>
<text transform="translate(286.81,515.40) scale(0.9888,1.0796)" font-family="'Liberation Serif',serif" font-weight="normal" font-size="44" text-anchor="start" fill="#000" stroke="#000" stroke-width="0.6" stroke-linejoin="round">10</text>
<text transform="translate(428.56,514.68) scale(0.9995,1.0924)" font-family="'Liberation Serif',serif" font-weight="normal" font-size="44" text-anchor="start" fill="#000" stroke="#000" stroke-width="0.6" stroke-linejoin="round">100</text>
<text transform="translate(573.97,513.47) scale(1.0004,1.0516)" font-family="'Liberation Serif',serif" font-weight="normal" font-size="44" text-anchor="start" fill="#000" stroke="#000" stroke-width="0.6" stroke-linejoin="round">1000</text>
<text transform="translate(815.37,38.99) scale(1.0355,1.0502)" font-family="'Liberation Serif',serif" font-weight="normal" font-size="39" text-anchor="start" fill="#000" stroke="#000" stroke-width="0.5" stroke-linejoin="round">40</text>
<text transform="translate(817.46,151.78) scale(0.9264,1.0470)" font-family="'Liberation Serif',serif" font-weight="normal" font-size="39" text-anchor="start" fill="#000" stroke="#000" stroke-width="0.5" stroke-linejoin="round">30</text>
<text transform="translate(817.47,263.00) scale(0.9264,1.0256)" font-family="'Liberation Serif',serif" font-weight="normal" font-size="39" text-anchor="start" fill="#000" stroke="#000" stroke-width="0.5" stroke-linejoin="round">20</text>
<text transform="translate(817.07,374.40) scale(1.0150,1.0502)" font-family="'Liberation Serif',serif" font-weight="normal" font-size="39" text-anchor="start" fill="#000" stroke="#000" stroke-width="0.5" stroke-linejoin="round">10</text>
<text transform="translate(830.22,485.00) scale(1.1408,1.0400)" font-family="'Liberation Serif',serif" font-weight="normal" font-size="39" text-anchor="start" fill="#000" stroke="#000" stroke-width="0.5" stroke-linejoin="round">0</text>
<text transform="translate(852.19,507.19) scale(0.7300,1.0279)" font-family="'Liberation Serif',serif" font-weight="normal" font-size="39" text-anchor="start" fill="#000" stroke="#000" stroke-width="0.5" stroke-linejoin="round">1</text>
<text transform="translate(1007.01,505.83) scale(0.9849,1.0515)" font-family="'Liberation Serif',serif" font-weight="normal" font-size="39" text-anchor="start" fill="#000" stroke="#000" stroke-width="0.5" stroke-linejoin="round">10</text>
<text transform="translate(1165.62,508.23) scale(0.9929,1.0607)" font-family="'Liberation Serif',serif" font-weight="normal" font-size="39" text-anchor="start" fill="#000" stroke="#000" stroke-width="0.5" stroke-linejoin="round">100</text>
<text transform="translate(1322.64,508.48) scale(0.9795,1.0279)" font-family="'Liberation Serif',serif" font-weight="normal" font-size="39" text-anchor="start" fill="#000" stroke="#000" stroke-width="0.5" stroke-linejoin="round">1000</text>
<text transform="translate(495.98,541.43) scale(1.0092,0.9426)" font-family="'Liberation Serif',serif" font-weight="normal" font-size="33" text-anchor="start" fill="#000" stroke="#000" stroke-width="0.5" stroke-linejoin="round">&#916;<tspan font-style="italic">T</tspan>&#8201;(K)</text>
<text transform="translate(1231.58,542.48) scale(0.9982,0.9450)" font-family="'Liberation Serif',serif" font-weight="normal" font-size="33" text-anchor="start" fill="#000" stroke="#000" stroke-width="0.5" stroke-linejoin="round">&#916;<tspan font-style="italic">T</tspan>&#8201;(K)</text>
<text transform="translate(36.25,247.69) rotate(-90) scale(1.0517,0.9717)" font-family="'Liberation Serif',serif" font-weight="normal" font-size="42" text-anchor="middle" fill="#000" stroke="#000" stroke-width="0.4" stroke-linejoin="round"><tspan font-style="italic">q</tspan> (MW/m<tspan dy="-15" font-size="0.62em">2</tspan><tspan dy="15">)</tspan></text>
<text transform="translate(766.66,256.69) rotate(-90) scale(1.0384,0.9577)" font-family="'Liberation Serif',serif" font-weight="normal" font-size="37" text-anchor="middle" fill="#000" stroke="#000" stroke-width="0.4" stroke-linejoin="round">&#945;&#8201;(kW/m<tspan dy="-13" font-size="0.62em">2</tspan><tspan dy="19" font-size="1.2em">&#215;</tspan><tspan dy="-6">K)</tspan></text>
<text transform="translate(598.57,282.16) scale(0.8418,1.0496)" font-family="'Liberation Serif',serif" font-weight="normal" font-size="30" text-anchor="start" fill="#000" stroke="#000" stroke-width="0.5" stroke-linejoin="round">1</text>
<text transform="translate(330.82,270.35) scale(1.1771,1.0987)" font-family="'Liberation Serif',serif" font-weight="normal" font-size="30" text-anchor="start" fill="#000" stroke="#000" stroke-width="0.5" stroke-linejoin="round">2</text>
<text transform="translate(406.50,233.98) scale(0.9697,1.1282)" font-family="'Liberation Serif',serif" font-weight="normal" font-size="30" text-anchor="start" fill="#000" stroke="#000" stroke-width="0.5" stroke-linejoin="round">3</text>
<text transform="translate(526.88,102.23) scale(1.0925,1.0039)" font-family="'Liberation Serif',serif" font-weight="normal" font-size="30" text-anchor="start" fill="#000" stroke="#000" stroke-width="0.5" stroke-linejoin="round">4</text>
<text transform="translate(487.85,229.00) scale(1.0240,1.0550)" font-family="'Liberation Serif',serif" font-weight="normal" font-size="30" text-anchor="start" fill="#000" stroke="#000" stroke-width="0.5" stroke-linejoin="round">5</text>
<text transform="translate(552.73,193.46) scale(1.2002,1.0496)" font-family="'Liberation Serif',serif" font-weight="normal" font-size="30" text-anchor="start" fill="#000" stroke="#000" stroke-width="0.5" stroke-linejoin="round">6</text>
<text transform="translate(1221.64,442.23) scale(0.8139,1.0686)" font-family="'Liberation Serif',serif" font-weight="normal" font-size="30" text-anchor="start" fill="#000" stroke="#000" stroke-width="0.5" stroke-linejoin="round">1</text>
<text transform="translate(1069.35,373.77) scale(1.1726,1.0987)" font-family="'Liberation Serif',serif" font-weight="normal" font-size="30" text-anchor="start" fill="#000" stroke="#000" stroke-width="0.5" stroke-linejoin="round">2</text>
<text transform="translate(1036.08,157.47) scale(0.9231,0.9414)" font-family="'Liberation Serif',serif" font-weight="normal" font-size="30" text-anchor="start" fill="#000" stroke="#000" stroke-width="0.5" stroke-linejoin="round">3</text>
<text transform="translate(1130.02,124.35) scale(0.8872,1.0550)" font-family="'Liberation Serif',serif" font-weight="normal" font-size="30" text-anchor="start" fill="#000" stroke="#000" stroke-width="0.5" stroke-linejoin="round">4</text>
<text transform="translate(1003.08,248.28) scale(0.9231,1.0615)" font-family="'Liberation Serif',serif" font-weight="normal" font-size="30" text-anchor="start" fill="#000" stroke="#000" stroke-width="0.5" stroke-linejoin="round">5</text>
<text transform="translate(1270.28,387.65) scale(0.9956,1.0297)" font-family="'Liberation Serif',serif" font-weight="normal" font-size="30" text-anchor="start" fill="#000" stroke="#000" stroke-width="0.5" stroke-linejoin="round">6</text>
</g>
</svg>
</body></html>
